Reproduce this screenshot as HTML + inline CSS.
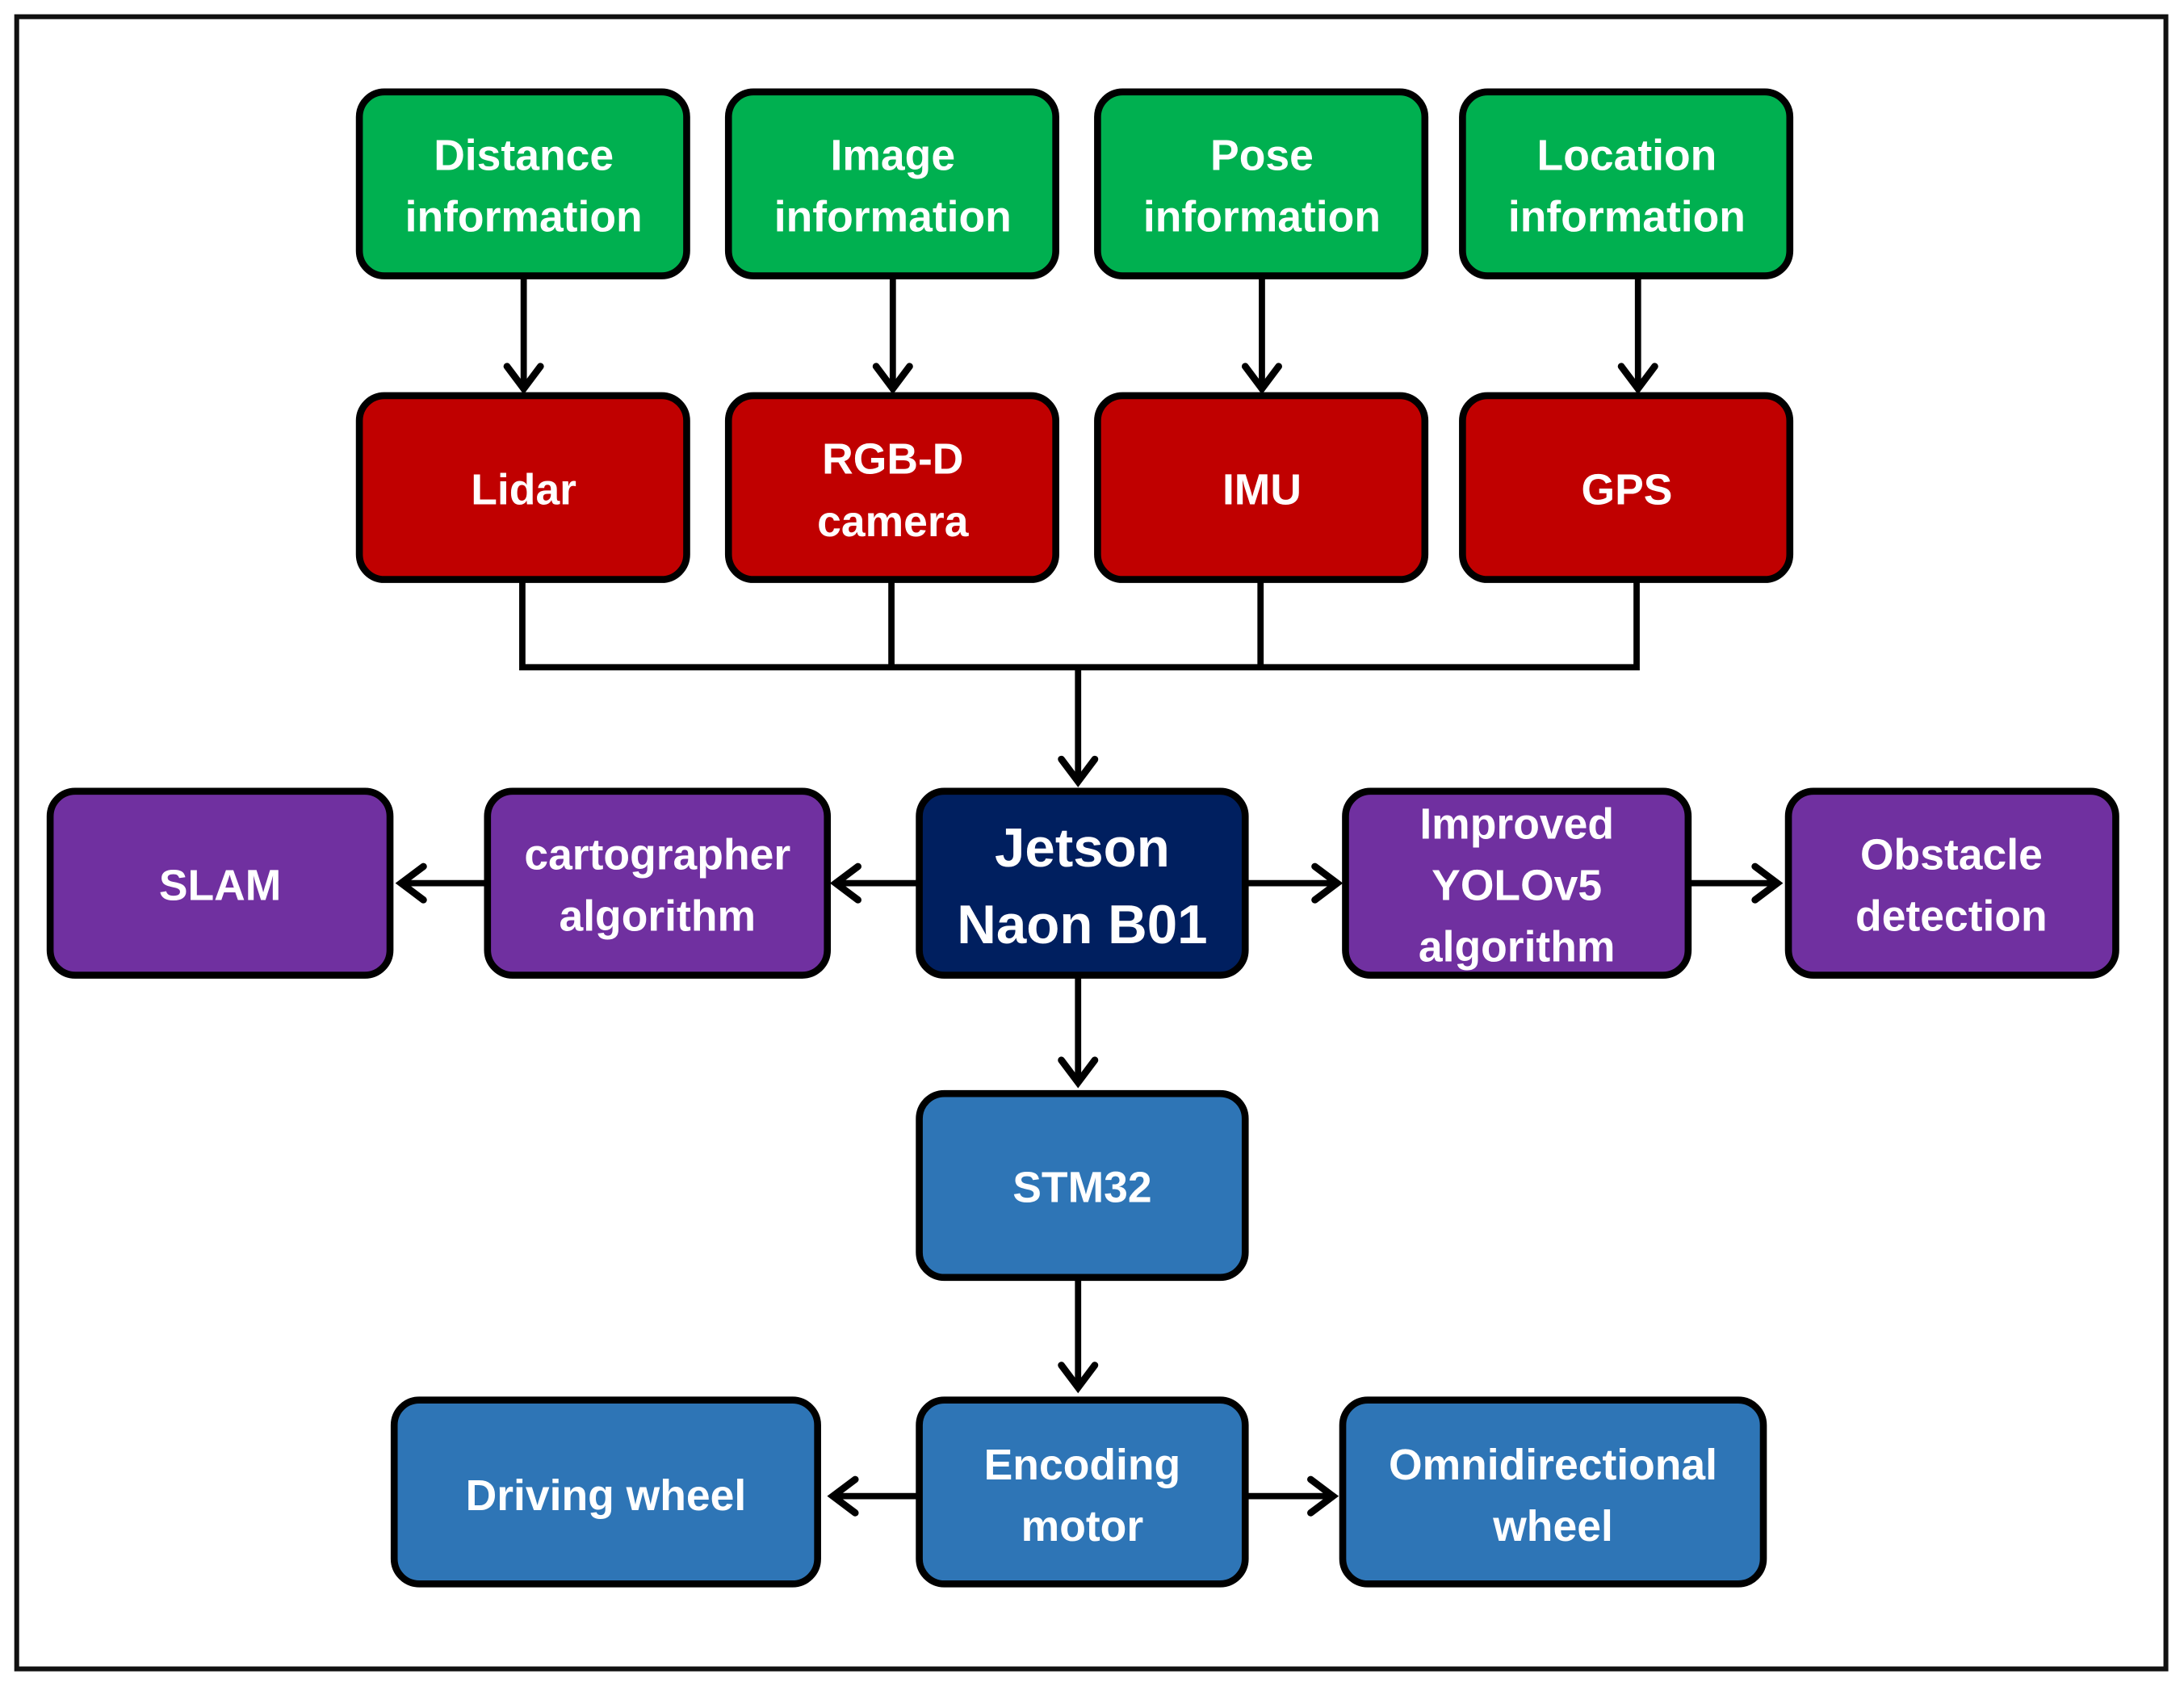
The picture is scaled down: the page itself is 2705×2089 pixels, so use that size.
<!DOCTYPE html>
<html><head><meta charset="utf-8"><style>
html,body{margin:0;padding:0;background:#fff;}
svg{display:block;}
text{font-family:"Liberation Sans",sans-serif;font-weight:bold;fill:#fff;text-anchor:middle;}
</style></head><body>
<svg width="2705" height="2089" viewBox="0 0 1568 1211" preserveAspectRatio="none" xmlns="http://www.w3.org/2000/svg">
<rect x="0" y="0" width="1568" height="1211" fill="#fff"/>
<rect x="12" y="12" width="1543" height="1186" fill="none" stroke="#111" stroke-width="3.5"/>
<g stroke="#000" stroke-width="5" stroke-linejoin="round">
<rect x="258" y="66" width="235" height="132" rx="18" fill="#00b050"/>
<rect x="523" y="66" width="235" height="132" rx="18" fill="#00b050"/>
<rect x="788" y="66" width="235" height="132" rx="18" fill="#00b050"/>
<rect x="1050" y="66" width="235" height="132" rx="18" fill="#00b050"/>
<rect x="258" y="284" width="235" height="132" rx="18" fill="#c00000"/>
<rect x="523" y="284" width="235" height="132" rx="18" fill="#c00000"/>
<rect x="788" y="284" width="235" height="132" rx="18" fill="#c00000"/>
<rect x="1050" y="284" width="235" height="132" rx="18" fill="#c00000"/>
<rect x="36" y="568" width="244" height="132" rx="18" fill="#7030a0"/>
<rect x="350" y="568" width="244" height="132" rx="18" fill="#7030a0"/>
<rect x="660" y="568" width="234" height="132" rx="18" fill="#001f5f"/>
<rect x="966" y="568" width="246" height="132" rx="18" fill="#7030a0"/>
<rect x="1284" y="568" width="235" height="132" rx="18" fill="#7030a0"/>
<rect x="660" y="785" width="234" height="132" rx="18" fill="#2e75b6"/>
<rect x="283" y="1005" width="304" height="132" rx="18" fill="#2e75b6"/>
<rect x="660" y="1005" width="234" height="132" rx="18" fill="#2e75b6"/>
<rect x="964" y="1005" width="302" height="132" rx="18" fill="#2e75b6"/>
</g>
<g stroke="#000" stroke-width="4.5" fill="none" stroke-linecap="butt">
<line x1="376" y1="200" x2="376" y2="280"/>
<line x1="641" y1="200" x2="641" y2="280"/>
<line x1="906" y1="200" x2="906" y2="280"/>
<line x1="1176" y1="200" x2="1176" y2="280"/>
<polyline points="375,418 375,479 1175,479 1175,418"/>
<line x1="640" y1="418" x2="640" y2="479"/>
<line x1="905" y1="418" x2="905" y2="479"/>
<line x1="774" y1="479" x2="774" y2="562"/>
<line x1="348" y1="634" x2="288" y2="634"/>
<line x1="658" y1="634" x2="600" y2="634"/>
<line x1="896" y1="634" x2="960" y2="634"/>
<line x1="1214" y1="634" x2="1276" y2="634"/>
<line x1="774" y1="702" x2="774" y2="778"/>
<line x1="774" y1="919" x2="774" y2="997"/>
<line x1="658" y1="1074" x2="598" y2="1074"/>
<line x1="896" y1="1074" x2="957" y2="1074"/>
</g>
<g stroke="#000" stroke-width="5" fill="none" stroke-linecap="round" stroke-linejoin="miter">
<polyline points="364,263 376,279 388,263"/>
<polyline points="629,263 641,279 653,263"/>
<polyline points="894,263 906,279 918,263"/>
<polyline points="1164,263 1176,279 1188,263"/>
<polyline points="762,545 774,561 786,545"/>
<polyline points="762,761 774,777 786,761"/>
<polyline points="762,980 774,996 786,980"/>
<polyline points="304,622 288,634 304,646"/>
<polyline points="616,622 600,634 616,646"/>
<polyline points="944,622 960,634 944,646"/>
<polyline points="1260,622 1276,634 1260,646"/>
<polyline points="614,1062 598,1074 614,1086"/>
<polyline points="941,1062 957,1074 941,1086"/>
</g>
<g font-size="31">
<text x="376" y="122">Distance</text><text x="376" y="166">information</text>
<text x="641" y="122">Image</text><text x="641" y="166">information</text>
<text x="906" y="122">Pose</text><text x="906" y="166">information</text>
<text x="1168" y="122">Location</text><text x="1168" y="166">information</text>
<text x="376" y="362">Lidar</text>
<text x="641" y="340">RGB-D</text><text x="641" y="385">camera</text>
<text x="906" y="362">IMU</text>
<text x="1168" y="362">GPS</text>
<text x="158" y="646">SLAM</text>
<text x="472" y="624">cartographer</text><text x="472" y="668">algorithm</text>
<text x="1089" y="602">Improved</text><text x="1089" y="646">YOLOv5</text><text x="1089" y="690">algorithm</text>
<text x="1401" y="624">Obstacle</text><text x="1401" y="668">detection</text>
<text x="777" y="863">STM32</text>
<text x="435" y="1084">Driving wheel</text>
<text x="777" y="1062">Encoding</text><text x="777" y="1106">motor</text>
<text x="1115" y="1062">Omnidirectional</text><text x="1115" y="1106">wheel</text>
</g>
<g font-size="39">
<text x="777" y="622">Jetson</text><text x="777" y="677">Naon B01</text>
</g>
</svg>
</body></html>
